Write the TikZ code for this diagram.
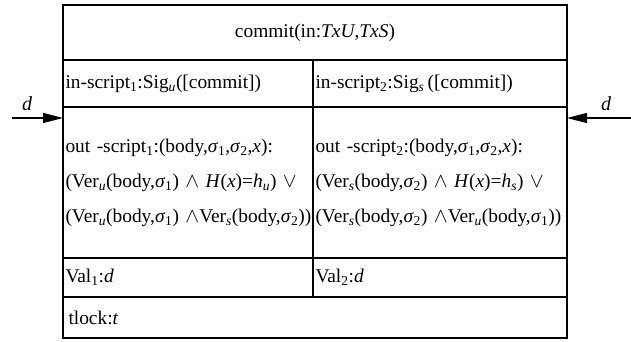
\documentclass[tikz,border=0pt]{standalone}
\usepackage{fontspec}
\setmainfont{Liberation Serif}
\usetikzlibrary{arrows.meta}
% sigma with a numeric index
\newcommand{\sg}[1]{\textit{σ}\textsubscript{#1}}
\begin{document}
\begin{tikzpicture}[x=1pt,y=-1pt,
  cell/.style={draw, line width=1.9pt, inner xsep=2.5pt, inner ysep=0pt, outer sep=0pt,
    font=\fontsize{19.4}{35}\selectfont, align=left},
  leftcell/.style={cell, text width=245pt, minimum height=#1},
  rightcell/.style={cell, text width=249pt, minimum height=#1},
  widecell/.style={cell, text width=499pt, minimum height=#1},
  feed/.style={line width=1.3pt, -{Triangle[length=20pt,width=10pt]}},
  lbl/.style={font=\fontsize{20}{22}\selectfont\itshape, inner sep=0pt}]
\useasboundingbox (0,0) rectangle (631,342);

% header spanning both columns (y 5..60)
\node[widecell=55pt, align=center] (head) at (315,32.5) {commit(in:\textit{TxU},\textit{TxS})};

% input scripts (y 60..107)
\node[leftcell=47pt] (inL) at (188,83.5)
  {\raisebox{-2pt}{in-script\textsubscript{1}:Sig\textsubscript{\textit{u}}([commit])}};
\node[rightcell=47pt] (inR) at (440,83.5)
  {\raisebox{-2pt}{in-script\textsubscript{2}:Sig\textsubscript{\textit{s}}\,([commit])}};

% output scripts (y 107..258)
\node[leftcell=151pt] (outL) at (188,182.5)
  {\mbox{out -script\textsubscript{1}:(body,\sg{1},\sg{2},\textit{x}):}\\
   \mbox{(Ver\textsubscript{\textit{u}}(body,\sg{1}) $\wedge$ \textit{H}(\textit{x})=\textit{h}\textsubscript{\textit{u}}) $\vee$}\\
   \mbox{(Ver\textsubscript{\textit{u}}(body,\sg{1}) $\wedge$Ver\textsubscript{\textit{s}}(body,\sg{2}))}};
\node[rightcell=151pt] (outR) at (440,182.5)
  {\mbox{out -script\textsubscript{2}:(body,\sg{1},\sg{2},\textit{x}):}\\
   \mbox{(Ver\textsubscript{\textit{s}}(body,\sg{2}) $\wedge$ \textit{H}(\textit{x})=\textit{h}\textsubscript{\textit{s}}) $\vee$}\\
   \mbox{(Ver\textsubscript{\textit{s}}(body,\sg{2}) $\wedge$Ver\textsubscript{\textit{u}}(body,\sg{1}))}};

% values (y 258..297)
\node[leftcell=39pt] (valL) at (188,277.5) {\raisebox{-3pt}{Val\textsubscript{1}:\textit{d}}};
\node[rightcell=39pt] (valR) at (440,277.5) {\raisebox{-3pt}{Val\textsubscript{2}:\textit{d}}};

% time lock (y 297..338)
\node[widecell=41pt] (lock) at (315,317.5) {\hspace{3pt}tlock:\textit{t}};

% deposits flowing in from both sides
\coordinate (srcL) at (12,118);
\coordinate (srcR) at (631,118);
\draw[feed] (srcL) -- (srcL -| outL.west);
\draw[feed] (srcR) -- (srcR -| outR.east);
\node[lbl] (dL) at (27,104) {d};
\node[lbl] (dR) at (606,104) {d};
\end{tikzpicture}
\end{document}
